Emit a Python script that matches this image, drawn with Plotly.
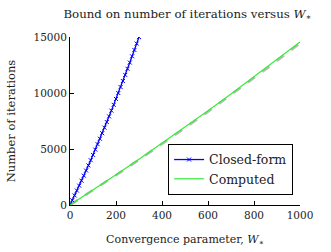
import plotly.graph_objects as go

# Closed-form bound (W from 0 to 300, step 10)
w_closed = [0, 10, 20, 30, 40, 50, 60, 70, 80, 90, 100, 110, 120, 130, 140, 150,
            160, 170, 180, 190, 200, 210, 220, 230, 240, 250, 260, 270, 280, 290, 300]
n_closed = [0, 424, 852, 1287, 1726, 2170, 2620, 3075, 3536, 4001, 4472, 4948,
            5429, 5916, 6408, 6905, 7407, 7914, 8427, 8945, 9468, 9996, 10530,
            11069, 11613, 12163, 12717, 13277, 13842, 14412, 14990]

# Computed values
w_comp = [0, 100, 200, 300, 400, 500, 600, 700, 800, 900, 1000]
n_comp = [0, 1334, 2695, 4083, 5498, 6939, 8407, 9902, 11424, 12972, 14547]
n_comp_shadow = [0, 1310, 2660, 4040, 5440, 6870, 8330, 9820, 11330, 12870, 14440]

x_ticks = [0, 200, 400, 600, 800, 1000]
y_ticks = [0, 5000, 10000, 15000]

FONT = "DejaVu Serif"

fig = go.Figure()
fig.add_trace(go.Scatter(x=w_comp, y=n_comp_shadow, mode="lines",
                         line=dict(color="#b8b8b8", width=2.5, dash="dash"),
                         showlegend=False, hoverinfo="skip"))
fig.add_trace(go.Scatter(x=w_closed, y=n_closed, mode="lines+markers", name="Closed-form",
                         line=dict(color="#0000ff", width=1.3),
                         marker=dict(symbol="x-thin", size=4, line=dict(color="#0000ff", width=1))))
fig.add_trace(go.Scatter(x=w_comp, y=n_comp, mode="lines", name="Computed",
                         line=dict(color="#33ee33", width=1.2)))

axis_common = dict(showgrid=False, zeroline=False, showline=True, linecolor="black",
                   linewidth=1, ticks="inside", ticklen=4, tickcolor="black",
                   automargin=False,
                   tickfont=dict(family=FONT, size=10.5, color="#222222"))

fig.update_layout(
    width=331, height=252,
    margin=dict(l=70, r=31, t=37, b=47),
    paper_bgcolor="white", plot_bgcolor="white",
    font=dict(family=FONT, size=11, color="#222222"),
    title=dict(text="Bound on number of iterations versus <i>W</i><sub>∗</sub>",
               x=0.566, xanchor="center", y=0.945, yanchor="middle",
               font=dict(family=FONT, size=11.8, color="#222222")),
    xaxis=dict(range=[0, 1000], tickvals=x_ticks, ticktext=[str(v) for v in x_ticks],
               title=dict(text="Convergence parameter, <i>W</i><sub>∗</sub>",
                          font=dict(family=FONT, size=11)),
               **axis_common),
    yaxis=dict(range=[0, 15000], tickvals=y_ticks, ticktext=[str(v) for v in y_ticks],
               title=dict(text="Number of iterations",
                          font=dict(family=FONT, size=11.5)),
               **axis_common),
    legend=dict(x=0.97, y=0.06, xanchor="right", yanchor="bottom",
                bgcolor="white", bordercolor="black", borderwidth=1,
                font=dict(family=FONT, size=12.5, color="#222222")),
    showlegend=True,
)

fig.write_html("out.html", config={"displayModeBar": False},
               post_script="document.body.style.margin='0';document.body.style.padding='0';")
